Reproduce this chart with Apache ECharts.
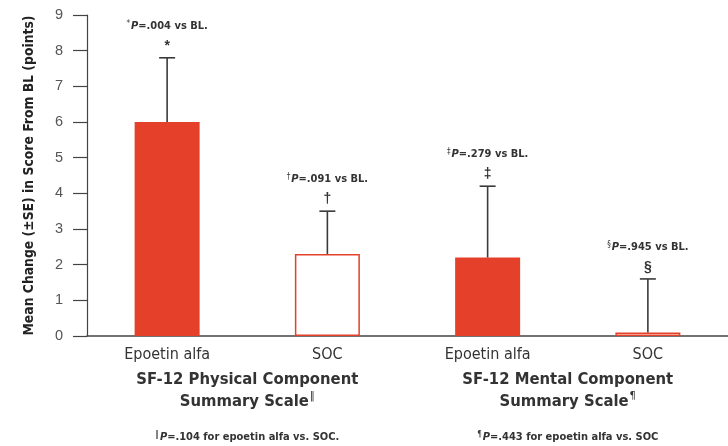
<!DOCTYPE html>
<html>
<head>
<meta charset="utf-8">
<script src="https://cdn.jsdelivr.net/npm/echarts@6/dist/echarts.min.js"></script>
<style>
  html, body { margin: 0; padding: 0; background: #fff; }
  #chart { width: 728px; height: 446px; }
</style>
</head>
<body>
<div id="chart"></div>
<script>
// Treatment arms, left to right
const categories = ['Epoetin alfa', 'SOC', 'Epoetin alfa', 'SOC'];
// Mean change from baseline (points)
const means = [6.0, 2.3, 2.2, 0.1];
// Standard error (upper whisker only)
const stdErrors = [1.8, 1.2, 2.0, 1.5];
// Epoetin alfa arms are solid, SOC arms are outlined
const hollow = [false, true, false, true];
// Significance markers and p-values vs baseline
const markers = ['*', '\u2020', '\u2021', '\u00a7'];
const pVsBaseline = ['.004', '.091', '.279', '.945'];
// Scale groups with between-arm footnotes
const groupTitles = ['SF-12 Physical Component', 'SF-12 Mental Component'];
const groupMarks = ['\u2016', '\u00b6'];
const groupFootnotes = ['=.104 for epoetin alfa vs. SOC.', '=.443 for epoetin alfa vs. SOC'];
// Y-axis ticks
const yTicks = [0, 1, 2, 3, 4, 5, 6, 7, 8, 9];

const RED = '#E5402A';
const NARROW = '"Liberation Sans Narrow", "DejaVu Sans Condensed", "Liberation Sans", Arial, sans-serif';
const SANS = '"Liberation Sans", Arial, sans-serif';

const chart = echarts.init(document.getElementById('chart'), null, { renderer: 'canvas' });

const barData = means.map((v, i) => ({
  value: v,
  itemStyle: hollow[i]
    ? { color: '#fff', borderColor: RED, borderWidth: 1.5 }
    : { color: RED, borderWidth: 0 }
}));

const errData = means.map((v, i) => [i, v, stdErrors[i]]);

const groupLabels = groupTitles.map((t, i) => '{t|' + t + '}\n{t|Summary Scale}{s|' + groupMarks[i] + '}');
const footLabels = groupFootnotes.map((t, i) => '{s|' + groupMarks[i] + '}{i|P}{f|' + t + '}');

chart.setOption({
  animation: false,
  backgroundColor: '#fff',
  grid: { left: 87, top: 15, width: 654, height: 321 },
  xAxis: [
    {
      type: 'category',
      data: categories,
      position: 'bottom',
      axisLine: { lineStyle: { color: '#444', width: 1.5 } },
      axisTick: { show: false },
      axisLabel: { interval: 0, margin: 11, fontSize: 16, color: '#333', fontFamily: NARROW }
    },
    {
      type: 'category',
      data: groupLabels,
      position: 'bottom',
      axisLine: { show: false },
      axisTick: { show: false },
      axisLabel: {
        interval: 0, margin: 33, color: '#333', align: 'center',
        rich: {
          t: { fontSize: 16.5, fontWeight: 'bold', fontFamily: NARROW, color: '#333', lineHeight: 22 },
          s: { fontSize: 11, fontFamily: NARROW, color: '#333', lineHeight: 22, verticalAlign: 'top', padding: [0, 0, 6, 1] }
        }
      }
    },
    {
      type: 'category',
      data: footLabels,
      position: 'bottom',
      axisLine: { show: false },
      axisTick: { show: false },
      axisLabel: {
        interval: 0, margin: 95, color: '#333',
        rich: {
          s: { fontSize: 8, fontFamily: NARROW, color: '#333', padding: [0, 1, 4, 0] },
          i: { fontSize: 11, fontStyle: 'italic', fontWeight: 'bold', fontFamily: NARROW, color: '#333' },
          f: { fontSize: 11, fontWeight: 'bold', fontFamily: NARROW, color: '#333' }
        }
      }
    }
  ],
  yAxis: {
    type: 'value',
    min: yTicks[0],
    max: yTicks[yTicks.length - 1],
    interval: 1,
    name: 'Mean Change (\u00b1SE) in Score From BL (points)',
    nameLocation: 'middle',
    nameGap: 51,
    nameTextStyle: { fontSize: 13.8, fontWeight: 'bold', fontFamily: NARROW, color: '#222' },
    axisLine: { show: true, lineStyle: { color: '#444', width: 1.2 } },
    axisTick: { show: true, length: 14, lineStyle: { color: '#444', width: 1.2 } },
    axisLabel: { margin: 24, fontSize: 14.5, color: '#555', fontFamily: SANS },
    splitLine: { show: false }
  },
  series: [
    {
      type: 'bar',
      xAxisIndex: 0,
      data: barData,
      barWidth: 65,
      z: 2
    },
    {
      type: 'custom',
      xAxisIndex: 0,
      data: errData,
      z: 3,
      renderItem(params, api) {
        const i = api.value(0);
        const m = api.value(1);
        const se = api.value(2);
        const base = api.coord([i, m]);
        const top = api.coord([i, m + se]);
        const cap = 8;
        const lineStyle = { stroke: '#3a3a3a', lineWidth: 1.6 };
        const idx = params.dataIndex;
        return {
          type: 'group',
          children: [
            { type: 'line', shape: { x1: base[0], y1: base[1], x2: top[0], y2: top[1] }, style: lineStyle },
            { type: 'line', shape: { x1: top[0] - cap, y1: top[1], x2: top[0] + cap, y2: top[1] }, style: lineStyle },
            {
              type: 'text',
              style: {
                x: top[0], y: top[1] - 12,
                text: markers[idx],
                align: 'center', verticalAlign: 'middle',
                font: 'bold 14px ' + SANS,
                fill: '#333'
              }
            },
            {
              type: 'text',
              style: {
                x: top[0], y: top[1] - 32,
                text: '{m|' + markers[idx] + '}{i|P}{t|=' + pVsBaseline[idx] + ' vs BL.}',
                align: 'center', verticalAlign: 'middle',
                rich: {
                  m: { fontSize: 8, fontFamily: NARROW, fill: '#333', padding: [0, 1, 4, 0] },
                  i: { fontSize: 11, fontStyle: 'italic', fontWeight: 'bold', fontFamily: NARROW, fill: '#333' },
                  t: { fontSize: 11, fontWeight: 'bold', fontFamily: NARROW, fill: '#333' }
                }
              }
            }
          ]
        };
      }
    }
  ]
});
</script>
</body>
</html>
